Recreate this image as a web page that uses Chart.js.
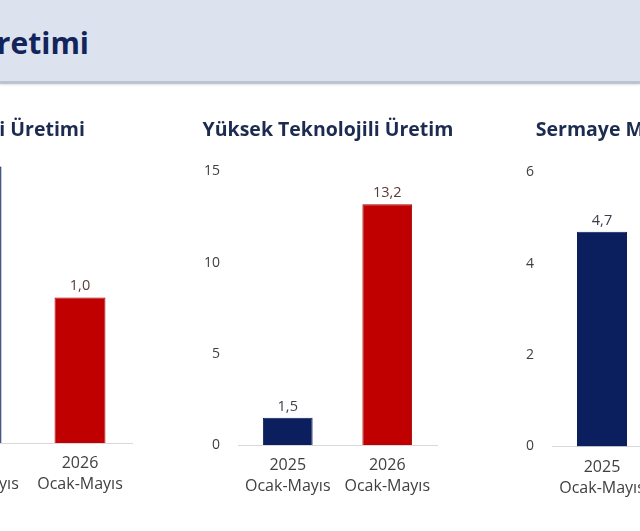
<!DOCTYPE html>
<html lang="tr">
<head>
<meta charset="utf-8">
<script src="https://cdn.jsdelivr.net/npm/chart.js@4"></script>
<style>
  html, body { margin: 0; padding: 0; background: #fff; }
  body { width: 640px; height: 531px; position: relative; overflow: hidden; font-family: "Open Sans", sans-serif; }
  #header {
    position: absolute; left: 0; top: 0; width: 640px; height: 81px;
    background: #dce3ef;
    border-bottom: 3px solid #bcc4d1;
    box-shadow: 0 1px 2px rgba(0,0,0,0.12);
  }
  #header h1 {
    position: absolute; right: calc(640px - 89px); top: 22px; margin: 0;
    font-size: 30px; font-weight: 700; color: #13245a; white-space: nowrap;
  }
  .chart { position: absolute; top: 100px; }
</style>
</head>
<body>
<div id="header"><h1>Sanayi Üretimi</h1></div>
<div class="chart" style="left:-150px"><canvas id="sanayiChart" width="305" height="420"></canvas></div>
<div class="chart" style="left:180px"><canvas id="yuksekChart" width="280" height="420"></canvas></div>
<div class="chart" style="left:494px"><canvas id="sermayeChart" width="281" height="420"></canvas></div>
<script>
  'use strict';

  // data
  var categories = [['2025', 'Ocak-Mayıs'], ['2026', 'Ocak-Mayıs']];
  var sanayiValues = [1.9, 1.0];
  var yuksekTeknolojiValues = [1.5, 13.2];
  var sermayeValues = [4.7, 5.3];
  var sanayiTicks = [0, 0.5, 1, 1.5, 2];
  var yuksekTeknolojiTicks = [0, 5, 10, 15];
  var sermayeTicks = [0, 2, 4, 6];

  var barColors = ['#0b1f5e', '#c00000'];
  var barBorders = ['#0b1f5e', '#a30000'];
  var labelColors = ['#3b3f4c', '#5a3a3a'];
  var fontFamily = '"Open Sans", sans-serif';

  /**
   * value labels above the bars
   */
  var valueLabels = {
    id: 'valueLabels',
    afterDatasetsDraw: function (chart) {
      var ctx = chart.ctx;
      var meta = chart.getDatasetMeta(0);
      var values = chart.data.datasets[0].data;
      ctx.save();
      ctx.font = '14.5px ' + fontFamily;
      ctx.textAlign = 'center';
      ctx.textBaseline = 'bottom';
      meta.data.forEach(function (bar, i) {
        ctx.fillStyle = labelColors[i];
        ctx.fillText(values[i].toFixed(1).replace('.', ','), bar.x, bar.y - 4);
      });
      ctx.restore();
    }
  };

  /**
   * slide the title sideways, the slide titles are not centred on the canvas
   */
  var titleShift = {
    id: 'titleShift',
    afterLayout: function (chart, args, opts) {
      if (chart.titleBlock && opts.shift) {
        chart.titleBlock.left += opts.shift;
        chart.titleBlock.right += opts.shift;
      }
    }
  };

  /**
   * draw one panel
   * @param id canvas id
   * @param title
   * @param values
   * @param ticks
   * @param box layout numbers
   */
  function drawPanel(id, title, values, ticks, box) {
    var ctx = document.getElementById(id).getContext('2d');
    return new Chart(ctx, {
      type: 'bar',
      data: {
        labels: categories,
        datasets: [{
          data: values,
          backgroundColor: barColors,
          borderColor: barBorders,
          borderWidth: 1,
          categoryPercentage: 1,
          barPercentage: box.barPct
        }]
      },
      options: {
        responsive: false,
        animation: false,
        layout: { padding: { left: 0, right: box.padR, top: 0, bottom: box.padB } },
        plugins: {
          legend: { display: false },
          tooltip: { enabled: false },
          titleShift: { shift: box.shift },
          title: {
            display: true,
            text: title,
            color: '#1c2b50',
            font: { family: fontFamily, size: 19.5, weight: 'bold', lineHeight: 1.2 },
            padding: { top: 19, bottom: box.titleB }
          }
        },
        scales: {
          x: {
            grid: { display: false, drawTicks: false },
            border: { display: true, color: '#d9d9d9', width: 1 },
            ticks: {
              color: '#404040',
              padding: 10,
              font: { family: fontFamily, size: 16, lineHeight: 1.32 }
            },
            afterFit: function (scale) { scale.height = 60; }
          },
          y: {
            min: ticks[0],
            max: ticks[ticks.length - 1],
            grid: { display: false, drawTicks: false },
            border: { display: false },
            ticks: {
              stepSize: ticks[1] - ticks[0],
              color: '#404040',
              padding: 18,
              font: { family: fontFamily, size: 14 }
            },
            afterFit: function (scale) { scale.width = box.axisW; }
          }
        }
      },
      plugins: [valueLabels, titleShift]
    });
  }

  drawPanel('sanayiChart', 'Sanayi Üretimi', sanayiValues, sanayiTicks,
    { padR: 23, padB: 17, axisW: 74, titleB: 9.6, barPct: 0.49, shift: 22 });
  drawPanel('yuksekChart', 'Yüksek Teknolojili Üretim', yuksekTeknolojiValues, yuksekTeknolojiTicks,
    { padR: 23, padB: 15, axisW: 58, titleB: 29.1, barPct: 0.5, shift: 19.5 });
  drawPanel('sermayeChart', 'Sermaye Malı Üretimi', sermayeValues, sermayeTicks,
    { padR: 23, padB: 13.5, axisW: 58, titleB: 30.1, barPct: 0.5, shift: 18.5 });
</script>
</body>
</html>
